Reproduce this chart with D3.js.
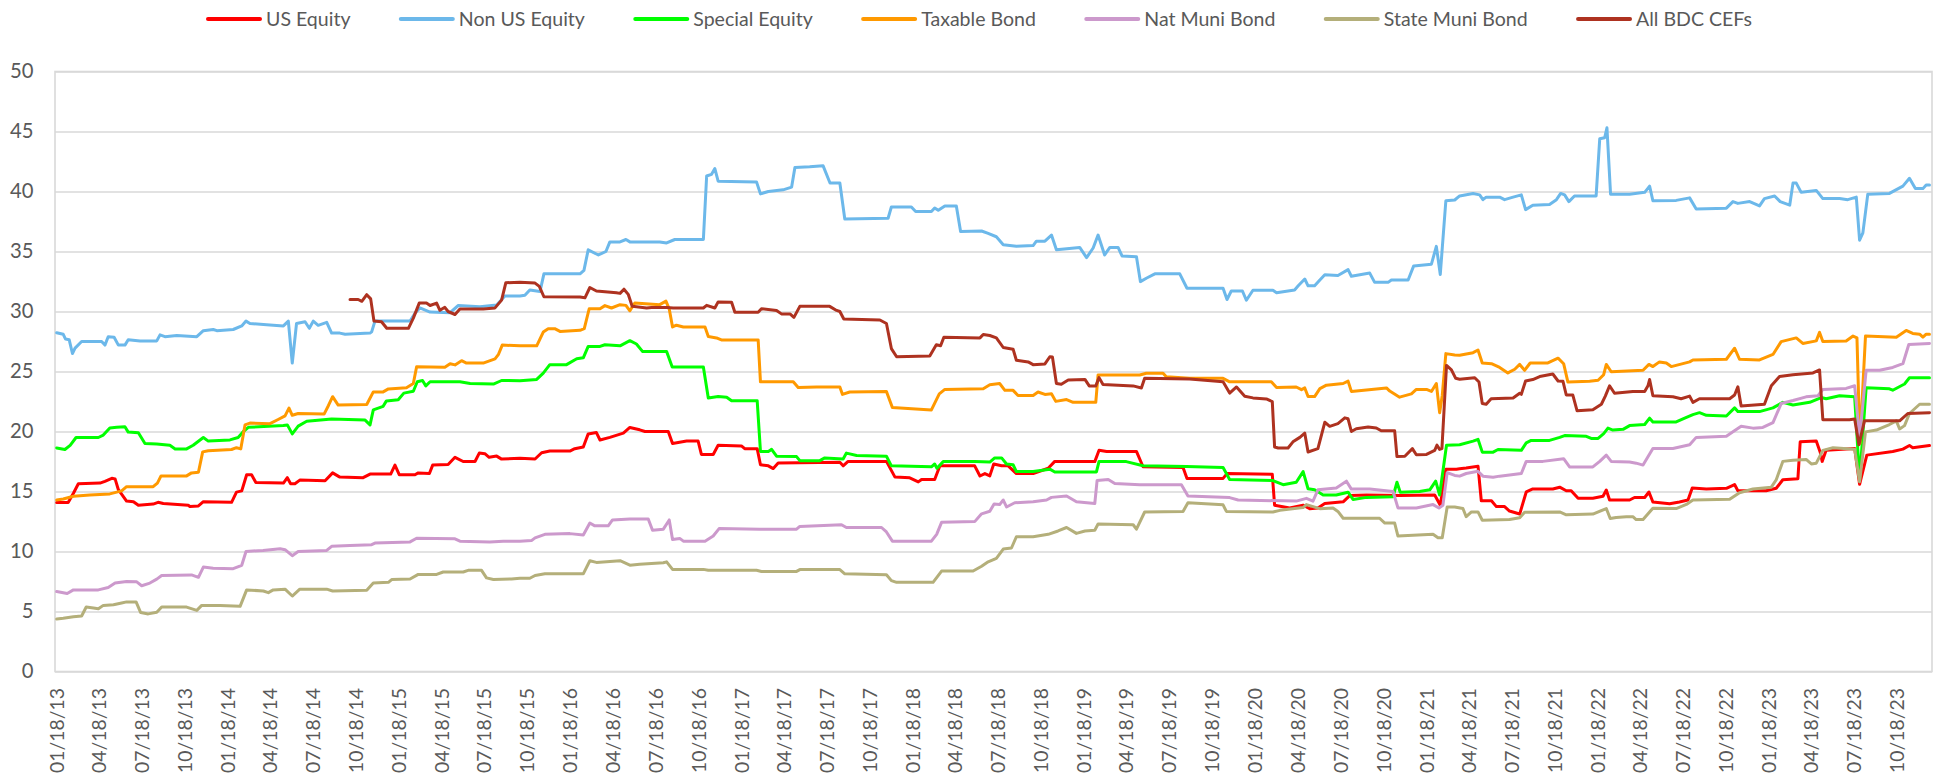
<!DOCTYPE html>
<html>
<head>
<meta charset="utf-8">
<script src="https://cdn.jsdelivr.net/npm/d3@7"></script>
<style>
  body { margin: 0; background: #ffffff; }
  svg { display: block; }
</style>
</head>
<body>
<svg id="chart" width="1938" height="779"></svg>
<script>
// ---- Data: weekly readings, [weeks since first date, value] ----
const firstDate = "2013-01-18";

const seriesNames = ["US Equity", "Non US Equity", "Special Equity", "Taxable Bond",
                     "Nat Muni Bond", "State Muni Bond", "All BDC CEFs"];
const seriesColors = ["#ff0000", "#6cb8ea", "#00ff00", "#ff9900",
                      "#cc99cc", "#b4af7a", "#ae3220"];

const usEquity = [[0,14.09],[3.5,14.09],[5.1,14.85],[6.6,15.65],[13.2,15.7],[14.7,15.85],[16.8,16.1],[17.8,16.05],[18.8,15.15],[21.3,14.2],[23.4,14.15],[24.9,13.85],[29.4,13.95],[30.9,14.1],[32.5,14.0],[40.1,13.85],[40.6,13.75],[43.2,13.8],[44.7,14.15],[53.3,14.1],[54.8,14.95],[56.4,15.05],[57.9,16.4],[59.4,16.4],[60.7,15.75],[69.1,15.7],[70.3,16.15],[71.3,15.65],[72.6,15.65],[74.1,15.95],[81.8,15.9],[84.1,16.55],[86.3,16.2],[93.4,16.15],[95.5,16.45],[101.8,16.45],[103.1,17.2],[104.4,16.4],[109.2,16.4],[110.2,16.55],[113.6,16.5],[114.6,17.2],[119.3,17.25],[121.4,17.85],[123.9,17.5],[127.5,17.5],[128.8,18.2],[130.5,18.15],[131.8,17.85],[134.1,17.95],[135.6,17.7],
  [141.2,17.77],[145.8,17.71],[147.8,18.23],[150.3,18.37],[156.4,18.37],[157.9,18.57],[160.5,18.71],[162,19.8],[164.5,19.91],[165.6,19.29],[168.6,19.51],[172.7,19.86],[174.7,20.34],[177.7,20.14],[179.3,20.0],[186.4,20.0],[187.7,19.0],[192,19.2],[195.5,19.2],[196.5,18.09],[200.1,18.09],[201.6,18.86],[208.7,18.8],[209.7,18.57],[213.5,18.57],[214.5,17.23],[216.9,17.14],[218.4,16.91],[219.9,17.37],[238.7,17.43],[239.7,17.14],[241.2,17.51],[252.9,17.51],[255.5,16.2],[260,16.14],[262.6,15.8],[263.6,16.0],[267.6,16.0],[269.2,17.14],[279.8,17.14],[281.4,16.29],[282.9,16.49],[284.4,16.3],[285.6,17.29],
  [288,17.14],[290,17.14],[292.5,16.49],[297.6,16.49],[302.2,16.94],[304.2,17.51],[316.4,17.49],[317.7,18.43],[320,18.34],[329.1,18.34],[331.1,17.06],[343.3,17.0],[344.5,16.09],[355.5,16.09],[356.7,16.49],[370.5,16.43],[371.2,13.86],[375.8,13.63],[379.9,13.86],[381.9,13.57],[384.4,13.63],[386.5,14.0],[392.1,14.14],[394.1,14.66],[399.2,14.71],[409.3,14.66],[420,14.71],[421.7,13.86],[423.4,16.86],[426.6,16.86],
  [427.6,16.9],[429.6,16.96],[433.2,17.11],[434.2,14.23],[437.3,14.23],[438.8,13.74],[441.3,13.74],[442.8,13.37],[445.9,13.12],[447.9,14.96],[449.9,15.21],[456,15.21],[458.1,15.36],[460.1,15.06],[461.6,15.06],[463.7,14.44],[468.2,14.44],[471.3,14.6],[472.3,15.12],[473.3,14.29],[479.4,14.29],[480.9,14.5],[484,14.5],[485.3,14.96],[486.5,14.13],[491.6,13.98],[494.6,14.13],[497.2,14.29],[498.5,15.3],[502.8,15.21],[508.9,15.27],[511.4,15.58],[512.4,15.06],[521,15.06],[524.1,15.27],[526.1,15.98],[530.7,16.07],[531.4,19.14],[536.3,19.2],[537.5,18.28],[538.1,17.51],[539.3,18.43],[548,18.59],[549.5,15.6],[551.7,18.03],[559.6,18.34],[562.7,18.53],[564.7,18.83],[565.7,18.65],[570.8,18.83]];

const nonUsEquity = [[0,28.23],[2,28.1],[2.7,27.7],[3.8,27.65],[4.8,26.5],[5.6,26.95],[7.6,27.5],[13.7,27.5],[14.7,27.2],[15.7,27.9],[17.5,27.85],[18.8,27.2],[20.8,27.2],[21.8,27.65],[25.4,27.55],[30.5,27.55],[31.5,28.05],[33,27.9],[36.6,28.0],[42.7,27.9],[44.7,28.4],[47.7,28.5],[48.8,28.4],[53.8,28.5],[56.4,28.8],[57.7,29.2],[58.9,29.0],[64,28.9],[69.1,28.8],[70.6,29.2],[71.8,25.7],[73.1,29.0],[75.7,29.15],[77,28.6],[78.2,29.2],[79.7,28.85],[82.3,29.1],[83.8,28.2],[86.3,28.2],[87.9,28.1],[95.5,28.2],[96,28.3],[97,29.2],[107.7,29.2],[109.2,29.85],[110.7,30.3],[113.8,29.95],[119.9,29.9],[122.4,30.5],[129,30.4],[134.1,30.55],[136.6,31.3],
  [141.2,31.29],[142.7,31.35],[144.2,31.8],[147.3,31.66],[148.5,33.14],[159.5,33.14],[160.7,33.43],[162,35.14],[165.1,34.71],[167.4,35.0],[168.6,35.8],[171.7,35.8],[173.5,36.0],[174.7,35.8],[183.8,35.8],[185.9,35.71],[188.4,36.0],[197.1,36.0],[198.1,41.29],[199.6,41.43],[200.6,41.91],[201.6,40.86],[213.3,40.8],[214.5,39.8],[216.9,40.0],[221.4,40.14],[224,40.37],[225,42.0],[229.5,42.06],[233.6,42.14],[235.7,40.71],[238.7,40.71],[240.2,37.71],[253.4,37.77],[254.4,38.71],[260.5,38.71],[261.8,38.34],[266.6,38.34],[267.6,38.63],[268.7,38.43],[270.7,38.8],[274.2,38.8],[275.5,36.66],[281.9,36.71],[283.9,36.51],
  [286.4,36.23],[288.5,35.57],[292.5,35.43],[297.6,35.49],[298.6,35.86],[301.2,35.86],[303.2,36.37],[304.7,35.14],[311.8,35.34],[313.9,34.49],[315.9,35.29],[317.4,36.37],[319.4,34.71],[321,35.34],[323.5,35.34],[324.7,34.63],[329.1,34.57],[330.3,32.49],[332.1,32.77],[334.7,33.14],[342.3,33.14],[344.5,31.94],[355.5,31.94],[356.7,31.0],[358,31.71],[361.4,31.71],[362.6,30.94],[364.6,31.77],[370.7,31.77],[371.8,31.57],[377.3,31.8],[378.4,32.14],[380.4,32.71],[381.4,32.14],[383.4,32.14],[385,32.63],[386.5,33.06],[390.5,33.0],[393.6,33.49],[394.6,32.94],[400.2,33.2],[401.7,32.43],[405.8,32.43],[406.8,32.63],[411.9,32.63],[413.6,33.8],[419,33.94],[420.5,35.43],[421.7,33.09],[423.4,39.23],[426.1,39.29],
  [427.6,39.63],[431.7,39.84],[433.7,39.72],[434.7,39.32],[435.7,39.53],[439.8,39.53],[441.3,39.32],[443.9,39.53],[446.4,39.72],[447.7,38.49],[449.9,38.86],[455,38.92],[457.1,39.32],[458.4,39.84],[459.6,39.72],[460.9,39.16],[462.6,39.63],[469.2,39.63],[470.3,44.39],[471.8,44.48],[472.5,45.31],[473.6,39.78],[479.4,39.78],[484,39.93],[485.5,40.45],[486.5,39.23],[493.6,39.26],[497.7,39.47],[499.7,38.55],[508.9,38.61],[510.9,39.16],[512.4,39.01],[516,39.16],[519,38.8],[520.5,39.41],[523.6,39.63],[525.3,39.16],[528.2,38.86],[529.2,40.7],[530.2,40.7],[531.7,39.93],[536.3,40.09],[538.3,39.41],[543.4,39.41],[545.9,39.32],[548.5,39.53],[549.5,35.94],[550.5,36.55],[552,39.78],[558.6,39.84],[562.7,40.45],[564.7,41.1],[566.5,40.24],[568.8,40.24],[569.8,40.55],[570.8,40.55]];

const specialEquity = [[0,18.63],[2.5,18.5],[4.1,18.85],[5.9,19.5],[12.7,19.5],[14.2,19.7],[16.2,20.3],[18.3,20.35],[20.8,20.4],[21.8,19.95],[24.9,19.9],[26.9,19.0],[30.5,18.95],[34.5,18.85],[36.1,18.55],[39.6,18.55],[41.6,18.85],[44.7,19.5],[46.2,19.2],[52.8,19.3],[55.3,19.5],[56.9,20.0],[58.4,20.35],[69.1,20.5],[70.3,20.55],[71.8,19.8],[73.6,20.45],[76.2,20.85],[83.8,21.05],[94,20.95],[95.5,20.55],[96.5,21.8],[99.5,22.1],[100.5,22.55],[104.1,22.65],[105.8,23.2],[108.7,23.35],[109.9,24.15],[111.5,24.25],[112.5,23.8],[113.8,24.15],[122.9,24.15],[126,24.0],[133.1,23.95],[135.6,24.25],
  [141.2,24.23],[146.3,24.34],[148.3,24.86],[150.3,25.57],[155.4,25.57],[158.5,26.06],[160.5,26.14],[162,27.09],[165.6,27.09],[167.1,27.23],[171.7,27.14],[174.7,27.57],[176.7,27.29],[178.6,26.66],[185.9,26.66],[187.6,25.37],[197.1,25.37],[198.6,22.8],[201.6,22.91],[204.2,22.86],[205.7,22.57],[213.5,22.57],[214.5,18.34],[216.9,18.34],[217.9,18.51],[219.4,17.94],[225.5,17.91],[226.5,17.57],[232.6,17.57],[234.1,17.8],[239.7,17.71],[240.7,18.2],[243.8,18.0],[252.9,17.94],[254.4,17.14],[266.6,17.06],[267.6,17.29],[268.3,16.94],[270.2,17.49],[279.8,17.51],[284.4,17.45],[285.9,17.8],
  [288,17.8],[289.5,17.29],[291.5,17.23],[292.5,16.66],[297.6,16.66],[302.7,16.86],[304.2,16.63],[316.9,16.63],[317.7,17.51],[326,17.49],[331.1,17.14],[344.3,17.09],[355.5,17.0],[357.5,16.0],[370.7,15.91],[373.8,15.57],[377.8,15.77],[379.9,16.66],[381.4,15.23],[383.4,15.14],[386,14.71],[390,14.71],[393.6,14.94],[395.1,14.34],[399.2,14.51],[407.3,14.57],[408.5,15.77],[409.5,14.94],[415.4,15.0],[418.5,15.14],[420.3,15.86],[421.5,14.71],[423.6,18.86],
  [427.6,18.89],[431.7,19.2],[433.2,19.35],[434.5,18.28],[437.8,18.28],[439.3,18.5],[446.4,18.43],[447.9,19.05],[449.4,19.26],[455,19.26],[458.1,19.51],[459.6,19.66],[466.2,19.6],[467.7,19.42],[469.8,19.42],[471.5,19.82],[472.8,20.28],[474.3,20.12],[477.4,20.18],[479.4,20.49],[484,20.58],[485.5,21.11],[486.5,20.8],[493.6,20.8],[496.2,21.11],[498.7,21.41],[500.7,21.57],[502.8,21.35],[508.9,21.29],[511.4,21.97],[512.4,21.66],[519,21.66],[523.1,21.97],[526.1,22.43],[529.2,22.21],[534.3,22.43],[537.8,22.83],[539.3,22.73],[543.4,22.98],[548,22.89],[549.5,16.0],[551.5,23.65],[558.6,23.56],[559.6,23.44],[563.2,23.96],[564.7,24.48],[570.8,24.48]];

const taxableBond = [[0,14.29],[2,14.37],[5.1,14.6],[10.1,14.7],[16.2,14.8],[19.8,15.05],[21.3,15.4],[29.4,15.4],[30.7,15.7],[31.8,16.3],[39.6,16.3],[41.1,16.55],[43.2,16.6],[44.5,18.3],[46.2,18.4],[53.3,18.5],[54.8,18.65],[56.1,18.55],[57.4,20.55],[58.9,20.7],[65,20.65],[67.5,21.0],[69.6,21.3],[70.8,21.95],[71.8,21.35],[73.6,21.5],[81.5,21.45],[82.8,22.15],[84.1,22.9],[85.8,22.2],[94.5,22.25],[96.5,23.3],[99.5,23.3],[101.1,23.55],[106.6,23.65],[108.7,24.0],[109.7,25.4],[118.3,25.35],[119.9,25.65],[121.4,25.55],[123.4,25.9],[124.9,25.7],[130,25.7],[133.6,26.05],[134.6,26.4],[135.8,27.2],
  [141.2,27.14],[146.3,27.14],[148.3,28.29],[149.8,28.57],[151.8,28.57],[153.4,28.34],[159.5,28.43],[160.8,28.57],[162.3,30.23],[165.6,30.23],[167.1,30.49],[169.1,30.29],[171.7,30.57],[173.5,30.51],[174.7,30.06],[176.2,30.71],[183.8,30.57],[185.7,30.86],[186.7,30.2],[187.7,28.71],[188.9,28.86],[191,28.71],[197.6,28.71],[198.6,27.91],[201.1,27.8],[202.6,27.63],[213.8,27.63],[214.5,24.14],[224.5,24.14],[226,23.66],[231.6,23.71],[238.7,23.71],[239.5,23.09],[241.7,23.29],[252.9,23.34],[254.7,22.0],[266.6,21.8],[269,23.14],[270.7,23.51],[282.4,23.57],[284.4,23.9],
  [287.4,24.0],[289,23.43],[291.5,23.43],[293,23.0],[297.6,23.0],[299.1,23.29],[301.2,23.09],[303.2,23.14],[304.5,22.51],[307.8,22.66],[309.8,22.43],[316.7,22.43],[317.4,24.71],[330.1,24.71],[332.1,24.86],[337.2,24.86],[338.2,24.57],[345.3,24.43],[355.5,24.43],[357.5,24.14],[370.2,24.14],[371.8,23.66],[377.8,23.71],[379.4,23.49],[380.4,23.63],[381.4,22.91],[383.4,22.91],[385,23.57],[387,23.86],[392.1,24.0],[393.6,24.2],[394.6,23.34],[405.3,23.63],[406.3,23.37],[409.3,22.86],[412.9,23.14],[414.4,23.51],[417.5,23.51],[419,23.34],[420.5,24.0],[421.5,21.57],[422.3,23.0],[423.4,26.49],[426.1,26.37],
  [427.6,26.36],[431.7,26.57],[433.2,26.79],[434.5,25.71],[437.3,25.65],[439.8,25.34],[442.3,24.88],[444.4,25.19],[445.9,25.59],[447.4,25.1],[449.1,25.71],[454.5,25.71],[457.6,26.11],[459.3,25.65],[460.6,24.12],[467.2,24.18],[469.8,24.27],[471.5,24.73],[472.3,25.59],[473.8,24.98],[483.5,25.1],[485.3,25.59],[486.5,25.41],[488.5,25.8],[490.6,25.71],[492.1,25.41],[497.7,25.8],[498.7,25.96],[508.9,26.02],[511.4,26.94],[512.9,26.02],[519,25.96],[523.1,26.42],[525.6,27.49],[530.2,27.8],[532.2,27.34],[536.3,27.55],[537.3,28.26],[538.3,27.49],[545.4,27.55],[547.5,27.95],[548.7,27.8],[549.6,19.0],[551.3,27.95],[560.7,27.86],[563.7,28.42],[565.7,28.17],[567.8,28.11],[568.8,27.86],[569.8,28.11],[570.8,28.11]];

const natMuniBond = [[0,6.66],[2,6.57],[3.2,6.5],[5.1,6.8],[12.7,6.8],[15.7,7.0],[17.8,7.37],[21.3,7.5],[24.4,7.47],[25.9,7.15],[28.4,7.37],[30.5,7.7],[32,8.0],[41.1,8.05],[43.2,7.85],[44.7,8.7],[47.7,8.6],[53.8,8.57],[56.4,8.85],[57.7,10.0],[62.9,10.09],[68.1,10.23],[69.6,10.15],[71.8,9.65],[73.6,10.0],[82.3,10.09],[83.8,10.43],[89.4,10.5],[96,10.57],[97,10.7],[107.7,10.8],[109.7,11.1],[121.4,11.06],[122.9,10.86],[132,10.8],[136.1,10.86],
  [141.2,10.86],[144.7,10.91],[145.8,11.14],[148.8,11.43],[156.4,11.49],[160.5,11.37],[162.5,12.37],[164,12.14],[168.1,12.14],[169.4,12.63],[174.7,12.71],[180.3,12.71],[181.6,11.77],[184.9,11.86],[186.7,12.63],[187.7,11.0],[189.9,11.09],[191,10.86],[197.6,10.86],[200.1,11.29],[201.9,11.91],[214.3,11.86],[225.5,11.86],[226.5,12.09],[239.2,12.23],[240.7,12.0],[251.4,12.0],[252.9,11.63],[254.7,10.86],[266.6,10.86],[268.2,11.43],[269.7,12.43],[279.8,12.49],[281.9,13.14],[284.4,13.35],[285.7,13.95],
  [287.4,13.91],[288.5,14.29],[289.5,13.71],[292,14.06],[297.6,14.14],[301.7,14.29],[303.2,14.51],[307.8,14.63],[310.8,14.14],[316.4,14.0],[317.1,15.91],[320.5,16.0],[322.5,15.66],[330.1,15.57],[342.8,15.57],[344.8,14.63],[357.5,14.49],[360.1,14.29],[377.8,14.2],[380.9,14.43],[382.9,14.2],[384.4,15.14],[390,15.29],[393.1,15.86],[394.6,15.2],[400.2,15.2],[407.3,15.0],[408.8,13.63],[414.4,13.63],[419.5,13.91],[421.3,13.63],[422.5,13.86],[423.8,16.57],[426.1,16.34],
  [427.6,16.28],[429.6,16.5],[433.2,16.68],[434.7,16.28],[437.8,16.19],[439.8,16.28],[446.4,16.5],[447.9,17.51],[453,17.51],[459.3,17.73],[461.1,17.05],[468.2,17.05],[470.3,17.51],[472.3,18.03],[473.8,17.51],[479.4,17.45],[481.4,17.36],[483.5,17.2],[486.5,18.59],[492.6,18.59],[497.7,18.89],[499.7,19.51],[508.9,19.6],[510.9,19.97],[513.4,20.43],[517,20.28],[520,20.34],[523.1,20.74],[525.6,22.33],[529.2,22.58],[533.2,22.89],[536.8,22.98],[538.3,23.5],[545.4,23.59],[548,23.81],[549.5,19.5],[551.5,25.1],[555.6,25.1],[559.6,25.34],[562.7,25.65],[564.5,27.25],[570.8,27.34]];

const stateMuniBond = [[0,4.37],[2,4.43],[5.1,4.57],[7.6,4.63],[9,5.37],[11.2,5.29],[12.7,5.23],[14.2,5.51],[17.3,5.57],[19.8,5.71],[21.3,5.8],[24.2,5.8],[25.6,4.91],[27.9,4.8],[30.5,4.94],[32,5.37],[39.6,5.37],[42.7,5.09],[44.2,5.51],[49.8,5.51],[55.9,5.43],[57.9,6.8],[63,6.71],[64.5,6.57],[66,6.8],[69.6,6.86],[71.8,6.29],[74.1,6.86],[82.3,6.86],[84.1,6.71],[94.5,6.77],[96.5,7.37],[101.1,7.43],[102.1,7.66],[107.7,7.71],[110.2,8.09],[115.8,8.09],[117.8,8.29],[123.9,8.29],[125.4,8.43],[129.5,8.43],[131,7.8],[133.1,7.66],[138.6,7.71],
  [141.2,7.77],[144.2,7.77],[145.8,8.0],[148.8,8.14],[160.5,8.14],[162.5,9.23],[164.5,9.09],[171.7,9.23],[174.7,8.86],[177.7,8.94],[184.9,9.06],[185.9,9.14],[187.7,8.51],[197.1,8.51],[198.6,8.43],[213.3,8.43],[214.8,8.34],[225.5,8.34],[226.5,8.49],[238.7,8.49],[240.2,8.14],[252.9,8.06],[254.4,7.57],[256,7.43],[267.1,7.43],[269.7,8.37],[279.3,8.37],[281.9,8.77],[283.9,9.14],
  [286.4,9.43],[288.5,10.2],[291,10.29],[292.5,11.23],[297.6,11.23],[302.2,11.43],[305.2,11.71],[307.8,12.0],[310.8,11.51],[313.4,11.71],[316.4,11.77],[317.4,12.29],[328.1,12.23],[329.1,11.86],[331.6,13.29],[343.3,13.34],[344.8,14.06],[355.5,13.89],[356.5,13.34],[370.7,13.29],[372.8,13.43],[379.9,13.66],[380.9,13.91],[385,13.57],[389,13.63],[390.5,13.34],[392.1,12.77],[403.2,12.77],[404.8,12.37],[407.8,12.37],[408.8,11.29],[419.5,11.43],[421,11.14],[422.3,11.14],[423.8,13.71],[426.1,13.71],
  [428.6,13.58],[429.6,12.9],[431.2,13.3],[433.2,13.3],[434.5,12.6],[442.8,12.66],[445.9,12.81],[447.4,13.27],[458.1,13.3],[460.1,13.06],[468.2,13.12],[472.3,13.58],[473.5,12.75],[475.3,12.84],[478.4,12.9],[480.4,12.9],[481.4,12.66],[483.5,12.66],[486.5,13.61],[493.6,13.58],[496.7,13.92],[498.7,14.29],[509.9,14.35],[512.9,14.9],[517,15.21],[522.6,15.36],[524.1,15.98],[526.1,17.51],[529.2,17.6],[533.2,17.67],[534.8,17.3],[536.3,17.36],[538.3,18.43],[541.4,18.65],[548,18.53],[549.5,15.82],[551.3,19.97],[554.6,20.12],[558.6,20.58],[560.7,20.89],[561.7,20.21],[563.2,20.49],[564.7,21.5],[567.8,22.27],[570.8,22.27]];

const allBdcCefs = [[89.4,31.0],[91.9,31.0],[93,30.85],[94.5,31.4],[95.7,31.05],[96.7,29.2],[99,29.15],[100.6,28.6],[107.2,28.6],[108.7,29.45],[110.5,30.7],[112.7,30.7],[113.8,30.5],[115.8,30.7],[116.8,30.1],[118.3,30.35],[119.3,30.0],[121.4,29.75],[122.9,30.2],[130,30.2],[133.6,30.3],[135.6,30.95],[136.9,32.4],
  [141.2,32.43],[145.8,32.37],[147.1,32.09],[148.5,31.23],[159.5,31.2],[161,31.14],[162.5,32.0],[164.5,31.71],[170.6,31.57],[171.7,31.51],[172.9,31.86],[174.2,31.43],[175.4,30.43],[179.8,30.29],[181.3,30.34],[185.9,30.34],[187.9,30.29],[197.1,30.29],[198.1,30.51],[200.6,30.29],[201.6,30.8],[205.7,30.77],[206.7,29.94],[213.8,29.94],[214.8,30.23],[219.4,30.09],[220.9,29.8],[223.5,29.8],[224.7,29.51],[226.5,30.43],[235.6,30.43],[237.7,30.09],[238.7,30.0],[239.9,29.37],[250.9,29.29],[252.9,29.0],[254.4,26.91],[256,26.23],[266.1,26.29],[268.1,27.23],[269.4,27.14],[270.4,27.86],[281.4,27.8],[282.4,28.09],[284.4,28.0],
  [286.4,27.8],[288.5,27.0],[291.5,26.86],[292.5,25.94],[296.1,25.8],[297.6,25.57],[301.2,25.63],[302.7,26.23],[303.5,26.2],[304.7,24.0],[306.2,23.94],[308.3,24.29],[313.4,24.34],[314.7,23.8],[316.7,23.8],[317.7,24.49],[318.9,23.91],[328.1,23.8],[330.6,23.63],[331.6,24.43],[345.3,24.37],[355.5,24.14],[357.5,23.2],[359.6,23.71],[362.1,22.94],[364.6,22.8],[368.7,22.71],[370.5,22.49],[371.2,18.71],[372.3,18.63],[375.3,18.63],[376.8,19.14],[378.9,19.51],[380.4,19.86],[381.4,18.29],[384.4,18.57],[386.5,20.77],[388,20.43],[390.5,20.66],[392.6,21.14],[393.6,21.06],[394.6,20.0],[396.1,20.23],[399.7,20.37],[402.2,20.29],[403.7,20.06],[407.8,20.06],[408.5,17.91],[410.9,17.94],[413.2,18.57],[414.4,18.06],[417.5,18.09],[420,18.43],[420.7,18.86],[421.5,18.51],[422.2,18.57],[423.6,25.51],[425.1,25.14],[426.4,24.43],
  [427.6,24.36],[432.2,24.48],[433.5,24.12],[434.5,22.33],[435.7,22.27],[437.2,22.73],[443.9,22.79],[445.9,23.19],[446.4,23.1],[447.7,24.21],[449.9,24.33],[452,24.58],[456,24.79],[457.6,24.21],[459.1,24.18],[460.1,23.04],[462.1,23.04],[463.4,21.72],[468.2,21.81],[470.8,22.27],[472,22.95],[473.3,23.81],[474.8,23.19],[480.4,23.34],[484,23.34],[485,23.81],[485.5,24.33],[486.5,22.98],[492.6,22.89],[495.1,22.73],[497.7,22.95],[498.7,22.43],[500.7,22.73],[509.9,22.73],[511.4,23.04],[512.4,23.72],[513.4,22.12],[520.5,22.27],[522.6,23.81],[525.1,24.58],[529.2,24.73],[535.3,24.88],[537.3,25.13],[538.3,20.98],[546.4,20.98],[548,21.04],[549.3,18.9],[551,20.89],[561.7,20.89],[564.2,21.5],[570.8,21.57]];

const seriesValues = [usEquity, nonUsEquity, specialEquity, taxableBond,
                      natMuniBond, stateMuniBond, allBdcCefs];

const yTickValues = [0, 5, 10, 15, 20, 25, 30, 35, 40, 45, 50];
const xTickLabels = [
  "01/18/13","04/18/13","07/18/13","10/18/13","01/18/14","04/18/14","07/18/14","10/18/14",
  "01/18/15","04/18/15","07/18/15","10/18/15","01/18/16","04/18/16","07/18/16","10/18/16",
  "01/18/17","04/18/17","07/18/17","10/18/17","01/18/18","04/18/18","07/18/18","10/18/18",
  "01/18/19","04/18/19","07/18/19","10/18/19","01/18/20","04/18/20","07/18/20","10/18/20",
  "01/18/21","04/18/21","07/18/21","10/18/21","01/18/22","04/18/22","07/18/22","10/18/22",
  "01/18/23","04/18/23","07/18/23","10/18/23"];

// ---- Layout ----
const svg = d3.select("#chart");
const plot = { left: 55, right: 1932, top: 71.5, bottom: 671.5 };
const textColor = "#595959";
const gridColor = "#d9d9d9";
const fontFamily = "Lato, 'Open Sans', sans-serif";

const DAY = 864e5;
const t0 = d3.utcParse("%Y-%m-%d")(firstDate);
const weekToDate = w => new Date(+t0 + w * 7 * DAY);

const x = d3.scaleUtc()
  .domain([new Date(+t0 - 3.6 * DAY), new Date(+t0 + 4001 * DAY)])
  .range([plot.left, plot.right]);
const y = d3.scaleLinear().domain([0, 50]).range([plot.bottom, plot.top]);

// font size that gives a string a target width
function fitSize(str, target, family) {
  const t = svg.append("text").attr("font-family", family).attr("font-size", 100).text(str);
  const w = t.node().getComputedTextLength();
  t.remove();
  return 100 * target / w;
}
const legendSize = Math.min(22, fitSize("All BDC CEFs", 116, fontFamily));
const xLabelSize = Math.min(22, fitSize("01/18/13", 85, fontFamily));
const yLabelSize = Math.min(22, fitSize("50", 23.5, fontFamily));

// ---- Gridlines and y axis ----
const yAxis = d3.axisLeft(y)
  .tickValues(yTickValues)
  .tickSize(-(plot.right - plot.left))
  .tickPadding(21.5)
  .tickFormat(d3.format("d"));
const gy = svg.append("g").attr("transform", `translate(${plot.left},0)`).call(yAxis);
gy.select(".domain").remove();
gy.selectAll(".tick line").attr("stroke", gridColor).attr("stroke-width", 1.4);
gy.selectAll(".tick text")
  .attr("fill", textColor)
  .attr("font-family", fontFamily)
  .attr("font-size", yLabelSize);

// plot area frame
svg.append("rect")
  .attr("x", plot.left).attr("y", plot.top)
  .attr("width", plot.right - plot.left).attr("height", plot.bottom - plot.top)
  .attr("fill", "none").attr("stroke", gridColor).attr("stroke-width", 1.6);

// ---- x axis (rotated date labels) ----
const parseTick = d3.utcParse("%m/%d/%y");
const tickDates = xTickLabels.map(parseTick);
const xAxis = d3.axisBottom(x)
  .tickValues(tickDates)
  .tickSize(0)
  .tickFormat((d, i) => xTickLabels[i]);
const gx = svg.append("g").attr("transform", `translate(0,${plot.bottom})`).call(xAxis);
gx.select(".domain").remove();
gx.selectAll(".tick text")
  .attr("fill", textColor)
  .attr("font-family", fontFamily)
  .attr("font-size", xLabelSize)
  .attr("text-anchor", "end")
  .attr("transform", "rotate(-90)")
  .attr("x", -16.5)
  .attr("y", 0)
  .attr("dy", "0.36em");

// ---- Series lines ----
const line = d3.line()
  .x(d => x(weekToDate(d[0])))
  .y(d => y(d[1]));

svg.append("g")
  .selectAll("path")
  .data(seriesValues)
  .join("path")
  .attr("d", line)
  .attr("fill", "none")
  .attr("stroke", (d, i) => seriesColors[i])
  .attr("stroke-width", 3)
  .attr("stroke-linejoin", "round")
  .attr("stroke-linecap", "round");

// ---- Legend ----
const legendY = 19;
const swatch = 52, swatchGap = 6;
const legend = svg.append("g");
const items = legend.selectAll("g").data(seriesNames).join("g");
items.append("line")
  .attr("x1", 0).attr("x2", swatch).attr("y1", 0).attr("y2", 0)
  .attr("stroke", (d, i) => seriesColors[i])
  .attr("stroke-width", 4)
  .attr("stroke-linecap", "round");
items.append("text")
  .attr("x", swatch + swatchGap)
  .attr("y", 0)
  .attr("dy", "0.35em")
  .attr("fill", textColor)
  .attr("font-family", fontFamily)
  .attr("font-size", legendSize)
  .text(d => d);

const legendStart = 208, legendEnd = 1752;
const widths = items.nodes().map(n => swatch + swatchGap + d3.select(n).select("text").node().getComputedTextLength());
const gap = (legendEnd - legendStart - d3.sum(widths)) / (widths.length - 1);
let cx = legendStart;
items.each(function(d, i) {
  d3.select(this).attr("transform", `translate(${cx},${legendY})`);
  cx += widths[i] + gap;
});
</script>
</body>
</html>
